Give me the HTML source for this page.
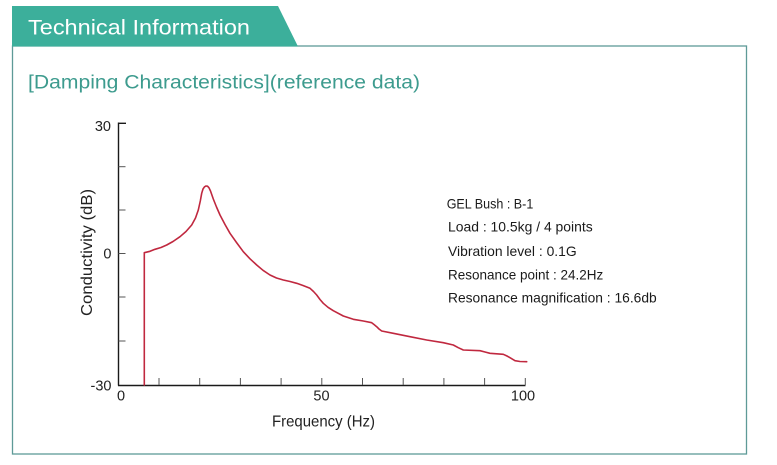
<!DOCTYPE html>
<html>
<head>
<meta charset="utf-8">
<style>
  html,body{margin:0;padding:0;background:#fff;}
  body{width:777px;height:465px;overflow:hidden;}
  svg{display:block;}
</style>
</head>
<body>
<svg width="777" height="465" viewBox="0 0 777 465" xmlns="http://www.w3.org/2000/svg">
  <rect x="0" y="0" width="777" height="465" fill="#ffffff"/>
  <!-- box -->
  <rect x="12.5" y="46" width="734" height="408" fill="none" stroke="#5e9a97" stroke-width="1.3"/>
  <!-- header tab -->
  <polygon points="12,6 278,6 298,46.5 12,46.5" fill="#3caf9b"/>
  <text x="28" y="34.5" font-family="Liberation Sans, sans-serif" font-size="21" fill="#ffffff" textLength="222" lengthAdjust="spacingAndGlyphs">Technical Information</text>
  <!-- subtitle -->
  <text x="28" y="88.5" font-family="Liberation Sans, sans-serif" font-size="19" fill="#3d9b8e" textLength="392" lengthAdjust="spacingAndGlyphs">[Damping Characteristics](reference data)</text>

  <!-- axes -->
  <g stroke="#1a1a1a" stroke-width="1.4" fill="none">
    <line x1="118.5" y1="122.5" x2="118.5" y2="385.5"/>
    <line x1="118" y1="385.5" x2="525.5" y2="385.5"/>
    <!-- y ticks -->
    <line x1="118.5" y1="123.3" x2="126" y2="123.3"/>
  </g>
  <g stroke="#555" stroke-width="1" fill="none">
    <line x1="118.5" y1="166.7" x2="125.5" y2="166.7"/>
    <line x1="118.5" y1="210" x2="125.5" y2="210"/>
    <line x1="118.5" y1="253.5" x2="125.5" y2="253.5"/>
    <line x1="118.5" y1="297" x2="125.5" y2="297"/>
    <line x1="118.5" y1="341" x2="125.5" y2="341"/>
    <!-- x ticks -->
    <line x1="159" y1="378" x2="159" y2="385"/>
    <line x1="199.7" y1="378" x2="199.7" y2="385"/>
    <line x1="240.4" y1="378" x2="240.4" y2="385"/>
    <line x1="281.1" y1="378" x2="281.1" y2="385"/>
    <line x1="321.8" y1="378" x2="321.8" y2="385"/>
    <line x1="362.5" y1="378" x2="362.5" y2="385"/>
    <line x1="403.2" y1="378" x2="403.2" y2="385"/>
    <line x1="443.9" y1="378" x2="443.9" y2="385"/>
    <line x1="484.6" y1="378" x2="484.6" y2="385"/>
    <line x1="525.3" y1="378" x2="525.3" y2="385"/>
  </g>

  <!-- tick labels -->
  <g font-family="Liberation Sans, sans-serif" font-size="14.5" fill="#222">
    <text x="111" y="131" text-anchor="end">30</text>
    <text x="111.5" y="258.5" text-anchor="end">0</text>
    <text x="111.5" y="390.5" text-anchor="end">-30</text>
    <text x="121" y="400.5" text-anchor="middle">0</text>
    <text x="321.5" y="400.5" text-anchor="middle">50</text>
    <text x="523" y="400.5" text-anchor="middle">100</text>
  </g>

  <!-- axis titles -->
  <text x="272" y="426.5" font-family="Liberation Sans, sans-serif" font-size="16" fill="#222" textLength="103" lengthAdjust="spacingAndGlyphs">Frequency (Hz)</text>
  <text transform="translate(92,316) rotate(-90)" x="0" y="0" font-family="Liberation Sans, sans-serif" font-size="16" fill="#222" textLength="127" lengthAdjust="spacingAndGlyphs">Conductivity (dB)</text>

  <!-- curve -->
  <polyline fill="none" stroke="#c0283f" stroke-width="1.6" stroke-linejoin="round" stroke-linecap="round"
    points="144.3,385 144.3,252.7 150,251.3 155,249.3 161,247.5 166.7,245 173,241.5 180,236.7 186,231.5 191.7,225 195.5,218 198.3,210 200.3,201 201.7,193.3 203,189 204.5,186.8 206,186 207.5,186.2 209,187.8 210.5,191 213.3,199 216.5,207 220,215 225,224.5 230,233.3 236.5,242.5 243.3,251.7 250,258.8 256.7,265 263,270.3 270,275 276.5,278 283.3,280 290,281.5 296.7,283.3 303,285.5 310,288.3 313.5,291.5 316.7,295 320,299.5 323.3,303.3 328,307.3 333.3,310.7 343.3,316 353.3,319.3 363.3,321 371.7,322.7 374,324.5 376.7,326.7 379,329 381.7,331 393.3,333.3 410,336.7 426.7,340 443.3,342.7 453.3,345 458.3,347.7 463.3,350 480,350.7 485,352 490,353.3 503.3,354.3 507,356 510,357.7 515,360.7 520,361.5 526.7,361.7"/>

  <!-- info text -->
  <g font-family="Liberation Sans, sans-serif" font-size="14" fill="#1a1a1a">
    <text x="446.7" y="208.3" textLength="86.6" lengthAdjust="spacingAndGlyphs">GEL Bush : B-1</text>
    <text x="448" y="231.7" textLength="144.7" lengthAdjust="spacingAndGlyphs">Load : 10.5kg / 4 points</text>
    <text x="448" y="255.8" textLength="128.7" lengthAdjust="spacingAndGlyphs">Vibration level : 0.1G</text>
    <text x="448" y="279.3" textLength="155.3" lengthAdjust="spacingAndGlyphs">Resonance point : 24.2Hz</text>
    <text x="448" y="302.7" textLength="208.7" lengthAdjust="spacingAndGlyphs">Resonance magnification : 16.6db</text>
  </g>
</svg>
</body>
</html>
